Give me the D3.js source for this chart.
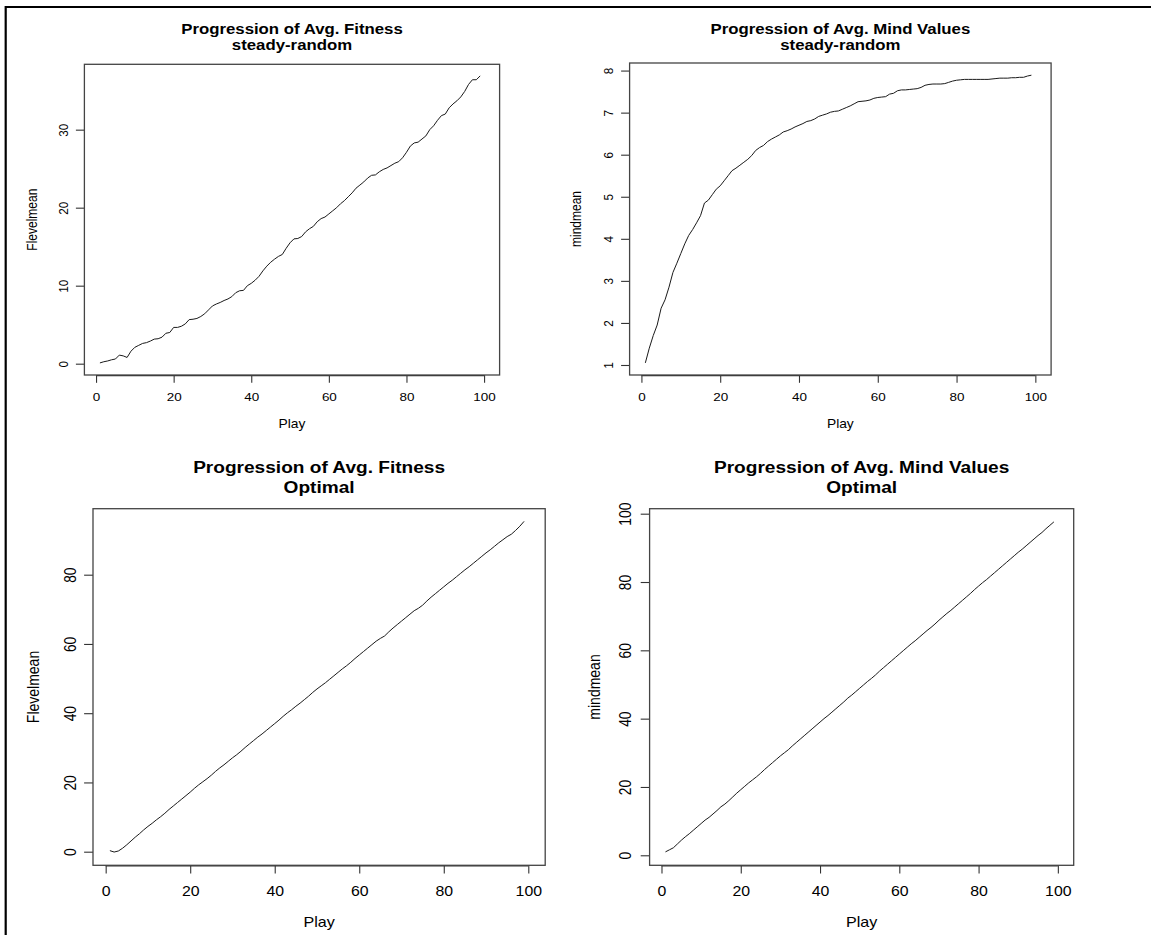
<!DOCTYPE html>
<html><head><meta charset="utf-8">
<script src="https://cdn.jsdelivr.net/npm/d3@7"></script>
<style>body{margin:0;background:#fff} text{font-family:"Liberation Sans",Arial,Helvetica,sans-serif;fill:#000}</style>
</head><body><svg id="c" width="1151" height="935"></svg>
<script>
// ---------- data ----------
const plays = d3.range(1, 100); // Play index 1..99

const fitnessSteady = [0.1,0.25,0.35,0.5,0.6,1.1,1.0,0.8,1.6,2.1,2.35,2.6,2.7,2.9,3.15,3.2,3.4,3.9,4.0,4.65,
4.65,4.8,5.1,5.65,5.7,5.8,6.05,6.4,6.9,7.4,7.65,7.85,8.1,8.3,8.6,9.1,9.35,9.4,10.0,10.3,
10.7,11.2,11.9,12.5,13.0,13.4,13.75,14.0,14.8,15.5,16.0,16.05,16.3,16.9,17.3,17.6,18.2,18.6,18.8,19.2,
19.6,20.0,20.5,20.9,21.4,21.9,22.5,22.9,23.3,23.8,24.15,24.2,24.6,24.9,25.1,25.4,25.7,25.9,26.4,27.1,
27.9,28.3,28.4,28.8,29.2,30.0,30.5,31.2,31.8,32.0,32.8,33.3,33.7,34.2,34.9,35.8,36.4,36.4,36.9];

const mindSteady = [1.05,1.4,1.7,1.95,2.35,2.55,2.85,3.2,3.42,3.65,3.88,4.08,4.22,4.38,4.55,4.85,4.92,5.05,5.18,5.26,
5.38,5.5,5.62,5.68,5.75,5.82,5.89,5.98,6.1,6.17,6.22,6.31,6.37,6.42,6.47,6.54,6.57,6.61,6.66,6.7,
6.74,6.79,6.81,6.85,6.91,6.94,6.97,7.01,7.03,7.04,7.08,7.12,7.16,7.21,7.26,7.27,7.28,7.3,7.34,7.36,
7.37,7.38,7.44,7.46,7.52,7.54,7.54,7.55,7.56,7.57,7.6,7.65,7.67,7.68,7.68,7.68,7.69,7.72,7.75,7.77,
7.78,7.79,7.79,7.79,7.79,7.79,7.79,7.79,7.8,7.81,7.82,7.82,7.82,7.83,7.83,7.84,7.84,7.87,7.89];

const fitnessOptimal = [0.3,-0.1,0.2,1.0,2.0,3.1,4.2,5.2,6.3,7.3,8.2,9.2,10.1,11.1,12.2,13.2,14.2,15.2,16.2,17.2,
18.3,19.3,20.2,21.1,22.1,23.2,24.2,25.1,26.1,27.1,28.0,29.0,30.1,31.1,32.1,33.1,34.0,35.0,36.0,37.0,
38.0,39.1,40.1,41.0,42.0,42.9,43.9,44.9,46.0,47.0,47.9,48.8,49.8,50.8,51.8,52.8,53.7,54.7,55.8,56.8,
57.8,58.8,59.8,60.8,61.6,62.3,63.5,64.6,65.6,66.6,67.6,68.6,69.6,70.3,71.2,72.4,73.5,74.5,75.5,76.5,
77.5,78.4,79.4,80.4,81.4,82.3,83.3,84.3,85.3,86.3,87.2,88.2,89.2,90.1,91.0,91.7,92.8,94.0,95.4];

const mindOptimal = [1.0,1.6,2.2,3.3,4.4,5.4,6.3,7.3,8.3,9.3,10.3,11.1,12.1,13.1,14.2,15.0,16.0,17.1,18.2,19.2,
20.2,21.2,22.1,23.0,24.0,25.1,26.1,27.1,28.1,29.1,30.0,30.9,32.0,33.0,34.0,35.0,36.0,37.0,38.0,39.0,
40.0,40.9,41.9,42.9,43.9,44.9,46.0,46.9,47.9,48.9,49.9,50.9,51.8,52.8,53.9,54.9,55.9,56.9,57.9,58.9,
59.9,60.9,61.9,62.8,63.8,64.8,65.8,66.7,67.7,68.8,69.8,70.8,71.7,72.7,73.7,74.7,75.7,76.7,77.8,78.8,
79.8,80.7,81.7,82.7,83.7,84.7,85.7,86.7,87.7,88.7,89.6,90.6,91.6,92.6,93.6,94.5,95.6,96.6,97.6];

const xTicks = [0, 20, 40, 60, 80, 100];
const yTicksFitSteady = [0, 10, 20, 30];
const yTicksMindSteady = [1, 2, 3, 4, 5, 6, 7, 8];
const yTicksFitOptimal = [0, 20, 40, 60, 80];
const yTicksMindOptimal = [0, 20, 40, 60, 80, 100];

const titles = [
  ["Progression of Avg. Fitness", "steady-random"],
  ["Progression of Avg. Mind Values", "steady-random"],
  ["Progression of Avg. Fitness", "Optimal"],
  ["Progression of Avg. Mind Values", "Optimal"]
];
const xLabel = "Play";
const yLabels = ["Flevelmean", "mindmean", "Flevelmean", "mindmean"];

// ---------- layout ----------
const SX = 1.15; // horizontal text stretch of the original picture
const svg = d3.select("#c");
svg.append("rect").attr("width", 1151).attr("height", 935).attr("fill", "#fff");
// outer frame lines
svg.append("line").attr("x1", 5).attr("x2", 1151).attr("y1", 7).attr("y2", 7).attr("stroke", "#000").attr("stroke-width", 2.2);
svg.append("line").attr("x1", 5.7).attr("x2", 5.7).attr("y1", 6).attr("y2", 935).attr("stroke", "#000").attr("stroke-width", 2.2);

const panels = [
  {data: fitnessSteady, yTicks: yTicksFitSteady, yDom: [-1.45, 38.38], l: 84.4, r: 499.6, t: 64.3, b: 375,
   t1: 34.3, t2: 50, titleFs: 14.6, tickFs: 11.7, labFs: 12, xtlOff: 26, xlabOff: 52.7, ytlOff: 16, ylabOff: 47.4, tick: 7.8},
  {data: mindSteady, yTicks: yTicksMindSteady, yDom: [0.762, 8.18], l: 629.6, r: 1051.1, t: 63, b: 375,
   t1: 33.6, t2: 50, titleFs: 14.6, tickFs: 11.7, labFs: 12, xtlOff: 26, xlabOff: 53, ytlOff: 17, ylabOff: 49, tick: 7.8},
  {data: fitnessOptimal, yTicks: yTicksFitOptimal, yDom: [-3.93, 99.06], l: 93, r: 545.2, t: 508.7, b: 865.3,
   t1: 473.3, t2: 492.7, titleFs: 16.6, tickFs: 13.8, labFs: 14, xtlOff: 30.7, xlabOff: 62, ytlOff: 17, ylabOff: 54, tick: 8.2},
  {data: mindOptimal, yTicks: yTicksMindOptimal, yDom: [-2.93, 101.46], l: 649.6, r: 1073.7, t: 508.7, b: 865.3,
   t1: 473.3, t2: 492.7, titleFs: 16.6, tickFs: 13.8, labFs: 14, xtlOff: 30.7, xlabOff: 62, ytlOff: 18.6, ylabOff: 50, tick: 8.2}
];

function stretchedText(g, x, y, str, fs, weight, rot) {
  return g.append("text")
    .attr("transform", `translate(${x},${y}) scale(${SX},1)` + (rot ? " rotate(-90)" : ""))
    .attr("text-anchor", "middle")
    .attr("font-size", fs)
    .attr("font-weight", weight || "normal")
    .text(str);
}

panels.forEach((p, i) => {
  const g = svg.append("g");
  const x = d3.scaleLinear().domain([-3, 104]).range([p.l, p.r]);
  const y = d3.scaleLinear().domain(p.yDom).range([p.b, p.t]);
  const cx = (p.l + p.r) / 2, cy = (p.t + p.b) / 2;

  // line
  g.append("path")
    .datum(plays.map((d, k) => [d, p.data[k]]))
    .attr("fill", "none").attr("stroke", "#1a1a1a").attr("stroke-width", 1)
    .attr("stroke-linejoin", "round")
    .attr("d", d3.line().x(d => x(d[0])).y(d => y(d[1])));

  // x axis
  const xa = g.append("g").attr("transform", `translate(0,${p.b})`)
    .call(d3.axisBottom(x).tickValues(xTicks).tickSize(p.tick).tickSizeOuter(0).tickFormat(d3.format("d")));
  xa.select(".domain").remove();
  xa.selectAll(".tick line").attr("stroke", "#333").attr("stroke-width", 1.1);
  xa.selectAll(".tick text")
    .attr("y", null).attr("dy", null)
    .attr("transform", `translate(0,${p.xtlOff}) scale(${SX},1)`)
    .attr("font-size", p.tickFs).attr("fill", "#000")
    .attr("font-family", '"Liberation Sans",Arial,sans-serif');
  // x axis line (first to last tick)
  g.append("line").attr("x1", x(xTicks[0])).attr("x2", x(xTicks[xTicks.length - 1]))
    .attr("y1", p.b + 0.6).attr("y2", p.b + 0.6).attr("stroke", "#333").attr("stroke-width", 1.1);

  // y axis
  const ya = g.append("g").attr("transform", `translate(${p.l},0)`)
    .call(d3.axisLeft(y).tickValues(p.yTicks).tickSize(p.tick + 0.7).tickSizeOuter(0).tickFormat(d3.format("d")));
  ya.select(".domain").remove();
  ya.selectAll(".tick line").attr("stroke", "#333").attr("stroke-width", 1.1);
  ya.selectAll(".tick text")
    .attr("x", null).attr("dy", null)
    .attr("text-anchor", "middle")
    .attr("transform", `translate(${-p.ytlOff},0) scale(${SX},1) rotate(-90)`)
    .attr("font-size", p.tickFs).attr("fill", "#000")
    .attr("font-family", '"Liberation Sans",Arial,sans-serif');

  // box
  g.append("rect").attr("x", p.l).attr("y", p.t).attr("width", p.r - p.l).attr("height", p.b - p.t)
    .attr("fill", "none").attr("stroke", "#444").attr("stroke-width", 1.3);

  // titles
  stretchedText(g, cx, p.t1, titles[i][0], p.titleFs, "bold");
  stretchedText(g, cx, p.t2, titles[i][1], p.titleFs, "bold");
  // axis labels
  stretchedText(g, cx, p.b + p.xlabOff, xLabel, p.labFs);
  stretchedText(g, p.l - p.ylabOff, cy, yLabels[i], p.labFs, "normal", true);
});
</script></body></html>
